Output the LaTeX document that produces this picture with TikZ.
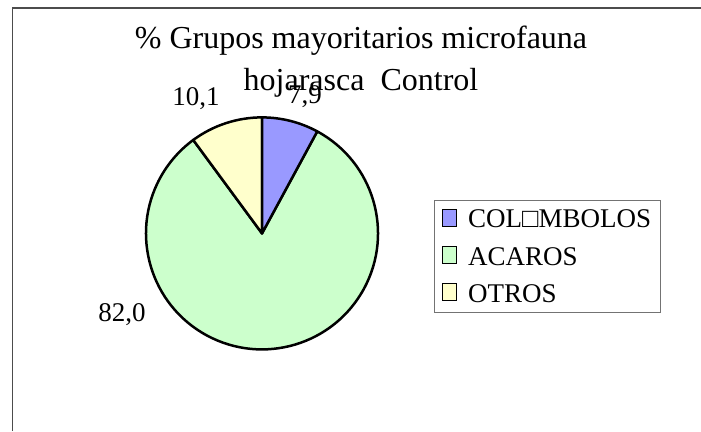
\documentclass[tikz,border=0pt]{standalone}
\usepackage{fontspec}
\setmainfont{Liberation Serif}
\definecolor{colembolo}{HTML}{9999FF}
\definecolor{acaro}{HTML}{CCFFCC}
\definecolor{otro}{HTML}{FFFFCC}
\begin{document}
\begin{tikzpicture}[x=1pt, y=1pt,
    title/.style={anchor=base, inner sep=0pt, font=\fontsize{32}{38}\selectfont},
    value/.style={anchor=base, inner sep=0pt, font=\fontsize{27}{32}\selectfont},
    slice/.style={draw=black, line width=2.5pt, line join=round},
    key/.style={rectangle, draw=black, line width=0.8pt, minimum width=14pt, minimum height=17pt, inner sep=0pt},
    entry/.style={anchor=base west, inner sep=0pt, font=\fontsize{27}{32}\selectfont}]
  \useasboundingbox (0,0) rectangle (701,431);
  % chart area frame
  \draw[black!70, line width=1.5pt] (12.5,0) -- (12.5,423) -- (701,423);
  \node[title] (title1) at (361,382.7) {\% Grupos mayoritarios microfauna};
  \node[title] (title2) at (361,340.3) {hojarasca\ \ Control};
  % pie, radius 116
  \coordinate (centro) at (262,197.6);
  \filldraw[slice, fill=acaro] (centro) -- ++(61.56:116) arc[start angle=61.56, end angle=-233.64, radius=116] -- cycle;
  \filldraw[slice, fill=otro] (centro) -- ++(126.36:116) arc[start angle=126.36, end angle=90, radius=116] -- cycle;
  \filldraw[slice, fill=colembolo] (centro) -- ++(90:116) arc[start angle=90, end angle=61.56, radius=116] -- cycle;
  \node[value] (v1) at (305,327) {7,9};
  \node[value] (v2) at (122,109.5) {82,0};
  \node[value] (v3) at (196,325) {10,1};
  % legend
  \node[draw=black!55, line width=0.8pt, minimum width=226pt, minimum height=112pt,
    anchor=north west, inner sep=0pt] (leyenda) at (434,231) {};
  \node[key, fill=colembolo] (k1) at (449,213.3) {};
  \node[key, fill=acaro] (k2) at (449,176) {};
  \node[key, fill=otro] (k3) at (449,139) {};
  \node[entry] (e1) at (468,203) {COL□MBOLOS};
  \node[entry] (e2) at (468,165.3) {ACAROS};
  \node[entry] (e3) at (468,128.7) {OTROS};
\end{tikzpicture}
\end{document}
